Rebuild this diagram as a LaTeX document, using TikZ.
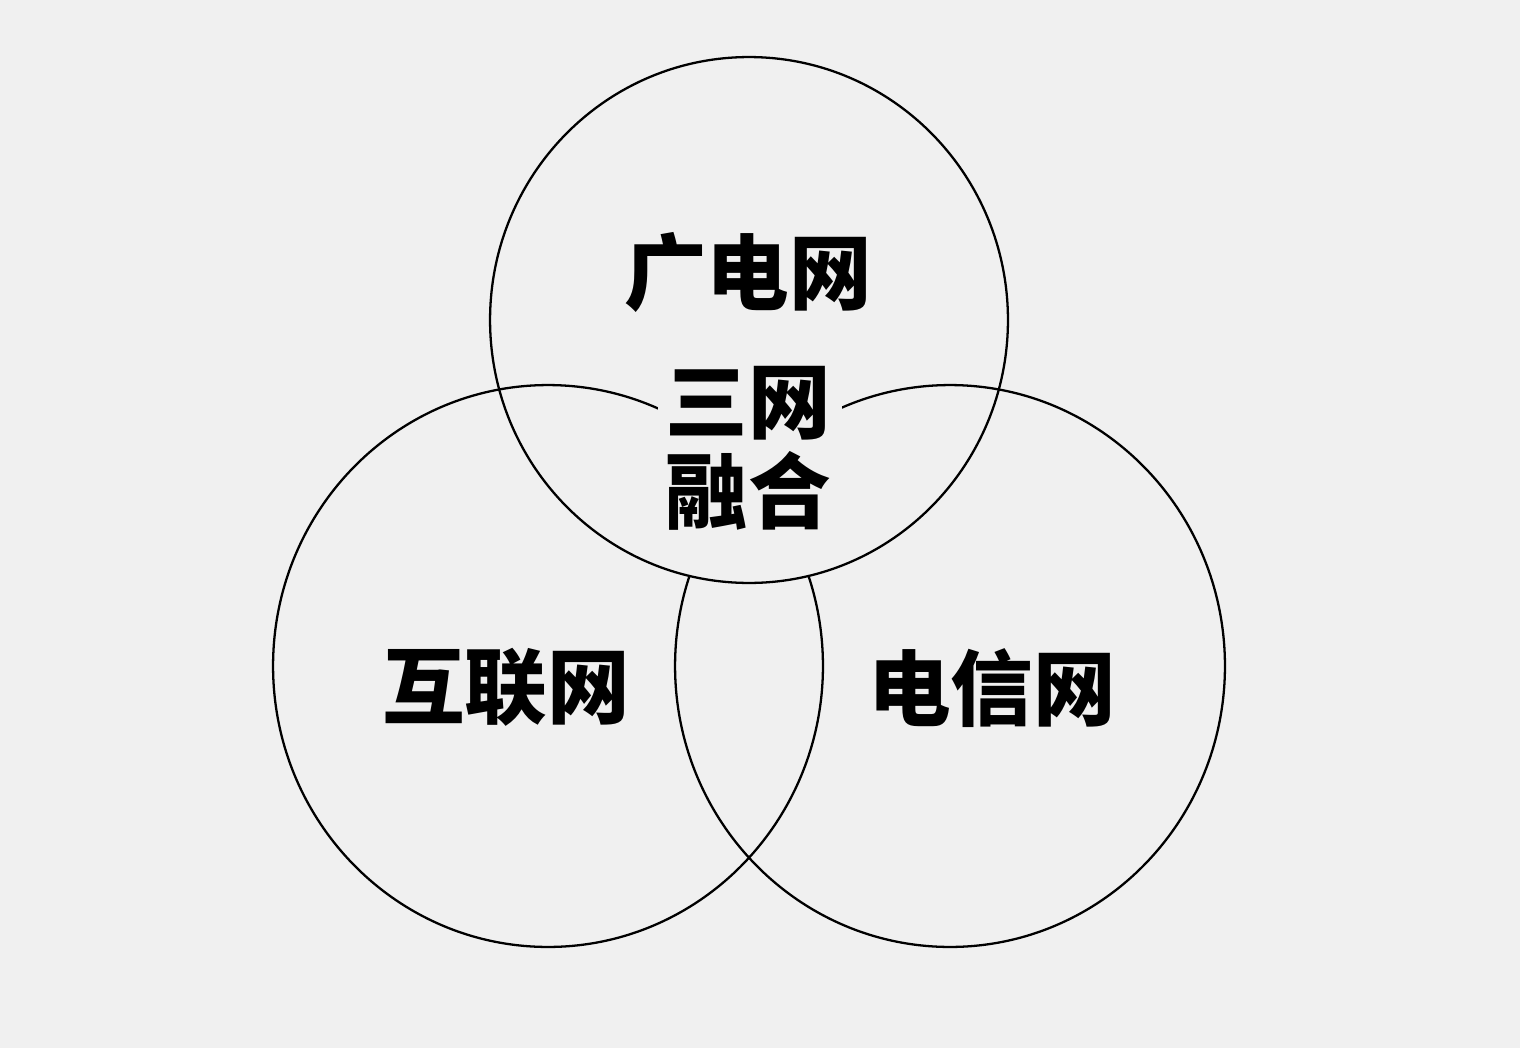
\documentclass[tikz,border=0pt]{standalone}
\usepackage{fontspec}
\newfontfamily\cjk{Noto Sans CJK SC}
\usetikzlibrary{positioning, shapes.geometric}
\definecolor{paper}{RGB}{240,240,240}
\tikzset{
  ring/.style={ellipse, draw=black, line width=1.3pt, inner sep=0pt},
  nettext/.style={font=\cjk\bfseries\fontsize{47}{51}\selectfont, align=center, inner sep=0pt}
}

\begin{document}
\begin{tikzpicture}[x=0.02cm, y=-0.02cm]
\fill[paper] (0,0) rectangle (1520,1048);
% the two lower circles
\node[ring, minimum width=11cm, minimum height=11.24cm] (hulian) at (548,666) {};
\node[ring, minimum width=11cm, minimum height=11.24cm] (dianxin) at (950,666) {};
% clear the arcs behind the centre text
\begin{scope}
\clip (749,320) ellipse[x radius=5.18cm, y radius=5.26cm];
\fill[paper] (658,360) rectangle (842,600);
\end{scope}
\node[ring, minimum width=10.36cm, minimum height=10.52cm] (guangdian) at (749,320) {};
% labels
\node[nettext] (tguangdian) at (748,272) {广电网};
\node[nettext] (thulian) at (506,687) {互联网};
\node[nettext] (tdianxin) at (992,688) {电信网};
\node[nettext] (tsanwang) at (748,448) {三网\\融合};
\end{tikzpicture}
\end{document}
